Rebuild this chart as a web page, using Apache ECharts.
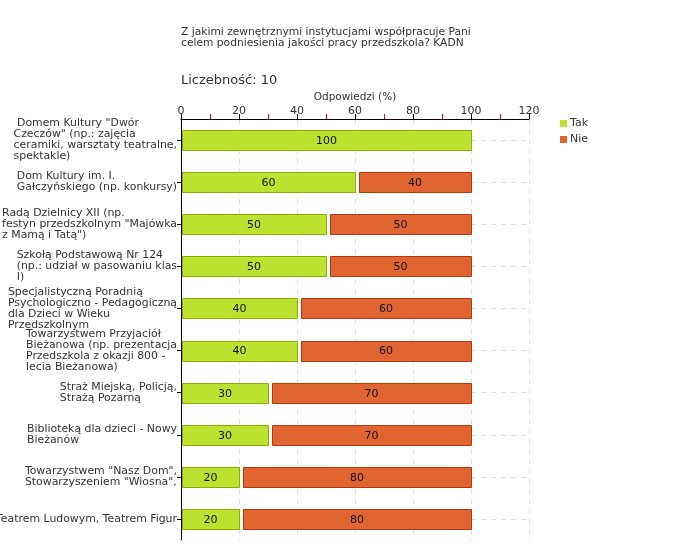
<!DOCTYPE html>
<html>
<head>
<meta charset="utf-8">
<script src="https://cdn.jsdelivr.net/npm/echarts@6/dist/echarts.min.js"></script>
<style>html,body{margin:0;padding:0;background:#fff;}#c{width:680px;height:560px;}</style>
</head>
<body>
<div id="c"></div>
<script>
var categories = [
  ' Domem Kultury "Dwór\nCzeczów" (np.: zajęcia\nceramiki, warsztaty teatralne,\nspektakle)',
  'Dom Kultury im. I.\nGałczyńskiego (np. konkursy)',
  'Radą Dzielnicy XII (np.\nfestyn przedszkolnym "Majówka\nz Mamą i Tatą")',
  'Szkołą Podstawową Nr 124\n(np.: udział w pasowaniu klas\nI)',
  'Specjalistyczną Poradnią\nPsychologiczno - Pedagogiczną\ndla Dzieci w Wieku\nPrzedszkolnym',
  'Towarzystwem Przyjaciół\nBieżanowa (np. prezentacja\nPrzedszkola z okazji 800 -\nlecia Bieżanowa)',
  'Straż Miejską, Policją,\nStrażą Pozarną',
  'Biblioteką dla dzieci - Nowy\nBieżanów',
  'Towarzystwem "Nasz Dom",\nStowarzyszeniem "Wiosna",',
  'Teatrem Ludowym, Teatrem Figur'
];
var tak = [100, 60, 50, 50, 40, 40, 30, 30, 20, 20];
var nie = [0, 40, 50, 50, 60, 60, 70, 70, 80, 80];
var seriesNames = ['Tak', 'Nie'];
var xTicks = [0, 20, 40, 60, 80, 100, 120];

var FONT = 'DejaVu Sans';
var takData = [], nieData = [];
for (var i = 0; i < categories.length; i++) {
  takData.push([i, 0, tak[i], tak[i]]);
  nieData.push([i, tak[i], tak[i] + nie[i], nie[i]]);
}

function makeRender(fill, stroke, inset) {
  return function (params, api) {
    var val = api.value(3);
    if (!val) return null;
    var cat = api.value(0);
    var p0 = api.coord([api.value(1), cat]);
    var p1 = api.coord([api.value(2), cat]);
    var h = 20;
    var x0 = p0[0] + inset;
    var w = p1[0] - x0;
    return {
      type: 'group',
      children: [
        {
          type: 'rect',
          shape: { x: x0 + 0.5, y: Math.round(p0[1] - h / 2) + 0.5, width: w, height: h },
          style: { fill: fill, stroke: stroke, lineWidth: 1 }
        },
        {
          type: 'text',
          style: {
            text: String(val), x: x0 + w / 2, y: p0[1] + 1,
            align: 'center', verticalAlign: 'middle',
            fill: '#111', font: '11px "' + FONT + '"'
          }
        }
      ]
    };
  };
}

var chart = echarts.init(document.getElementById('c'));
chart.setOption({
  animation: false,
  backgroundColor: '#fff',
  textStyle: { fontFamily: FONT },
  title: [
    {
      text: 'Z jakimi zewnętrznymi instytucjami współpracuje Pani\ncelem podniesienia jakości pracy przedszkola? KADN',
      left: 181, top: 27, padding: 0,
      textStyle: { fontSize: 10.7, fontWeight: 'normal', color: '#333', lineHeight: 11, fontFamily: FONT }
    },
    {
      text: 'Liczebność: 10',
      left: 181, top: 74, padding: 0,
      textStyle: { fontSize: 13, fontWeight: 'normal', color: '#333', fontFamily: FONT }
    }
  ],
  legend: {
    orient: 'vertical', left: 555, top: 113,
    itemWidth: 7, itemHeight: 7, itemGap: 5, icon: 'rect',
    data: seriesNames,
    textStyle: { fontSize: 11, color: '#333', fontFamily: FONT, padding: [0, 0, 0, -2] }
  },
  grid: { left: 181, top: 119, width: 348, height: 421, containLabel: false, outerBoundsMode: 'none' },
  xAxis: {
    type: 'value', position: 'top', min: 0, max: 120, interval: 20,
    name: 'Odpowiedzi (%)', nameLocation: 'middle', nameGap: 16, nameMoveOverlap: false,
    nameTextStyle: { fontSize: 10.5, color: '#333', fontFamily: FONT },
    axisLine: { show: true, lineStyle: { color: '#000', width: 1 } },
    axisTick: { show: true, length: 5, lineStyle: { color: '#000' } },
    minorTick: { show: true, splitNumber: 2, length: 5, lineStyle: { color: '#e00000' } },
    axisLabel: { fontSize: 11, color: '#333', margin: 2, fontFamily: FONT,
      customValues: xTicks },
    splitLine: { show: true, lineStyle: { color: '#ddd', type: [5, 5] } }
  },
  yAxis: {
    type: 'category', inverse: true, data: categories,
    axisLine: { show: true, lineStyle: { color: '#000', width: 1 } },
    axisTick: { show: true, alignWithLabel: true, length: 4, lineStyle: { color: '#000' } },
    splitLine: { show: true, alignWithLabel: true, lineStyle: { color: '#ddd', type: [5, 5] } },
    axisLabel: {
      interval: 0, margin: 4, fontSize: 11, lineHeight: 11, color: '#333', fontFamily: FONT,
      formatter: function (v) {
        return v.split('\n').map(function (l) { return '{l|' + l + '}'; }).join('\n');
      },
      rich: { l: { align: 'left', fontSize: 10.9, lineHeight: 11, color: '#333', fontFamily: FONT } }
    }
  },
  series: [
    {
      name: 'Tak', type: 'custom', data: takData,
      itemStyle: { color: '#bde12f' },
      renderItem: makeRender('#bde12f', '#8cae00', 1)
    },
    {
      name: 'Nie', type: 'custom', data: nieData,
      itemStyle: { color: '#e06531' },
      renderItem: makeRender('#e06531', '#b23a0b', 4)
    }
  ]
});
</script>
</body>
</html>
